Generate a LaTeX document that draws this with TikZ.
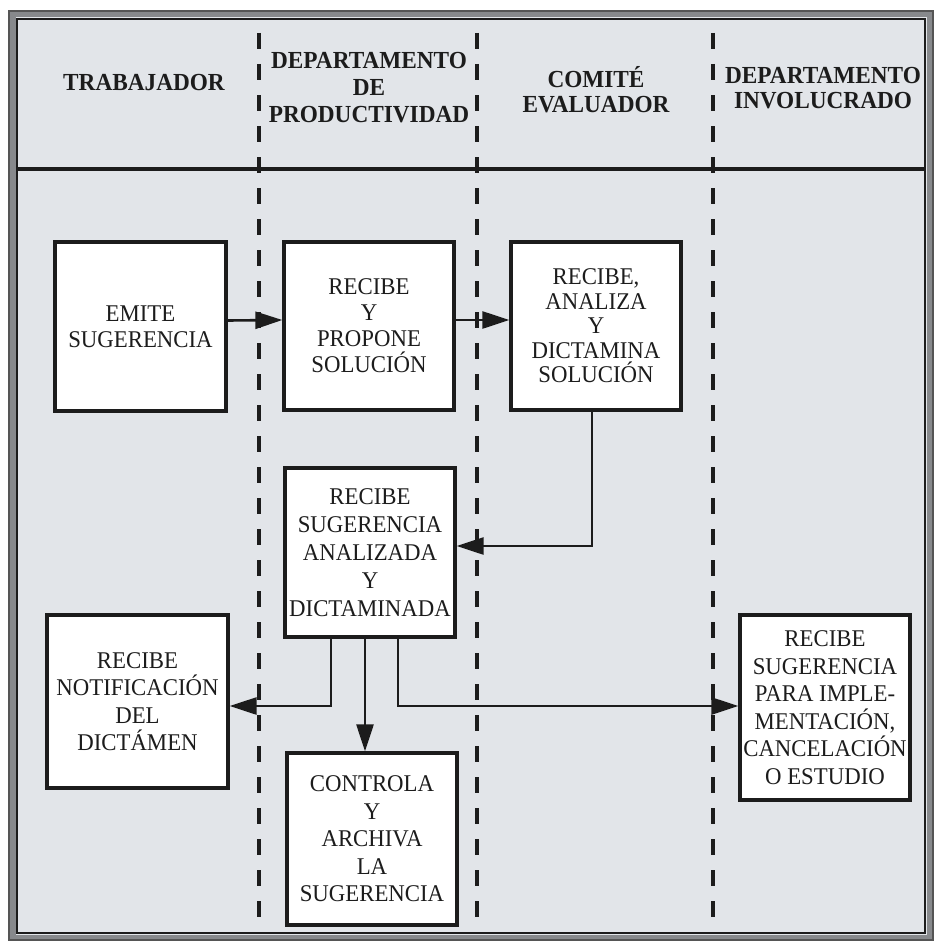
\documentclass[tikz,border=0pt]{standalone}
\usepackage{fontspec}
\setmainfont{Liberation Serif}
\newfontfamily\boxfont[FakeStretch=0.95]{Liberation Serif}
\newfontfamily\hdrfont[FakeStretch=0.95]{Liberation Serif}
\usetikzlibrary{arrows.meta}
\definecolor{bg}{RGB}{226,229,233}
\definecolor{ink}{RGB}{28,28,28}
\definecolor{band}{RGB}{135,137,140}
\tikzset{
  stepbox/.style={draw=ink, fill=white, line width=3.3pt, inner sep=0pt, align=center,
    text=ink, font=\boxfont\fontsize{24}{26}\selectfont},
  hdr/.style={font=\hdrfont\bfseries\fontsize{24.5}{27}\selectfont, align=center, text=ink, inner sep=0pt},
  lane/.style={draw=ink, line width=3.2pt, dash pattern=on 16pt off 15pt},
  arr/.style={draw=ink, line width=2.6pt, -{Triangle[length=27pt,width=17pt]}}
}
\begin{document}
\begin{tikzpicture}[x=1pt,y=-1pt]
\useasboundingbox (0,0) rectangle (936,942);
\fill[white] (0,0) rectangle (936,942);
% frame
\fill[bg] (12,14) rectangle (930,938);
\draw[band, line width=6pt] (12.5,14.5) rectangle (929.5,937.5);
\draw[ink!75, line width=1.2pt] (9,11) rectangle (933,940);
\draw[ink, line width=2pt] (17,19) rectangle (925,933);
% header separator
\draw[ink, line width=3.4pt] (17,169) -- (925,169);
% lane separators
\draw[lane] (259,33) -- (259,930);
\draw[lane] (477,33) -- (477,930);
\draw[lane] (713,33) -- (713,930);
% headers
\node[hdr] (h1) at (144,83) {TRABAJADOR};
\node[hdr] (h2) at (369,88) {DEPARTAMENTO\\DE\\PRODUCTIVIDAD};
\node[hdr, font=\hdrfont\bfseries\fontsize{24.5}{25}\selectfont] (h3) at (596,90) {COMITÉ\\EVALUADOR};
\node[hdr, font=\hdrfont\bfseries\fontsize{24.5}{25}\selectfont] (h4) at (823,88) {DEPARTAMENTO\\INVOLUCRADO};
% boxes
\node[stepbox, minimum width=171pt, minimum height=169pt] (b1) at (140.5,326.5) {EMITE\\SUGERENCIA};
\node[stepbox, minimum width=170pt, minimum height=168pt] (b2) at (369,326) {RECIBE\\Y\\PROPONE\\SOLUCIÓN};
\node[stepbox, minimum width=170pt, minimum height=168pt, font=\boxfont\fontsize{24}{24.5}\selectfont] (b3) at (596,326) {RECIBE,\\ANALIZA\\Y\\DICTAMINA\\SOLUCIÓN};
\node[stepbox, minimum width=170pt, minimum height=169pt, font=\boxfont\fontsize{24}{28}\selectfont] (b4) at (370,552.5) {RECIBE\\SUGERENCIA\\ANALIZADA\\Y\\DICTAMINADA};
\node[stepbox, minimum width=181pt, minimum height=173pt, font=\boxfont\fontsize{24}{27.5}\selectfont] (b5) at (137.5,701.5) {RECIBE\\NOTIFICACIÓN\\DEL\\DICTÁMEN};
\node[stepbox, minimum width=170pt, minimum height=172pt, font=\boxfont\fontsize{24}{27.5}\selectfont] (b6) at (372,839) {CONTROLA\\Y\\ARCHIVA\\LA\\SUGERENCIA};
\node[stepbox, minimum width=170pt, minimum height=185pt, font=\boxfont\fontsize{24}{27.5}\selectfont] (b7) at (825,707.5) {RECIBE\\SUGERENCIA\\PARA IMPLE-\\MENTACIÓN,\\CANCELACIÓN\\O ESTUDIO};
% connectors
\draw[arr] ([yshift=6pt]b1.east) -- ([yshift=6pt]b2.west);
\draw[arr] ([yshift=6pt]b2.east) -- ([yshift=6pt]b3.west);
\draw[arr] ([xshift=-4pt]b3.south) |- ([yshift=6.5pt]b4.east);
\draw[arr] ([xshift=-39pt]b4.south) |- ([yshift=-4.5pt]b5.east);
\draw[arr] ([xshift=-5pt]b4.south) -- ([xshift=-5pt]b4.south |- b6.north);
\draw[arr] ([xshift=28pt]b4.south) |- ([yshift=1.5pt]b7.west);
\end{tikzpicture}
\end{document}
